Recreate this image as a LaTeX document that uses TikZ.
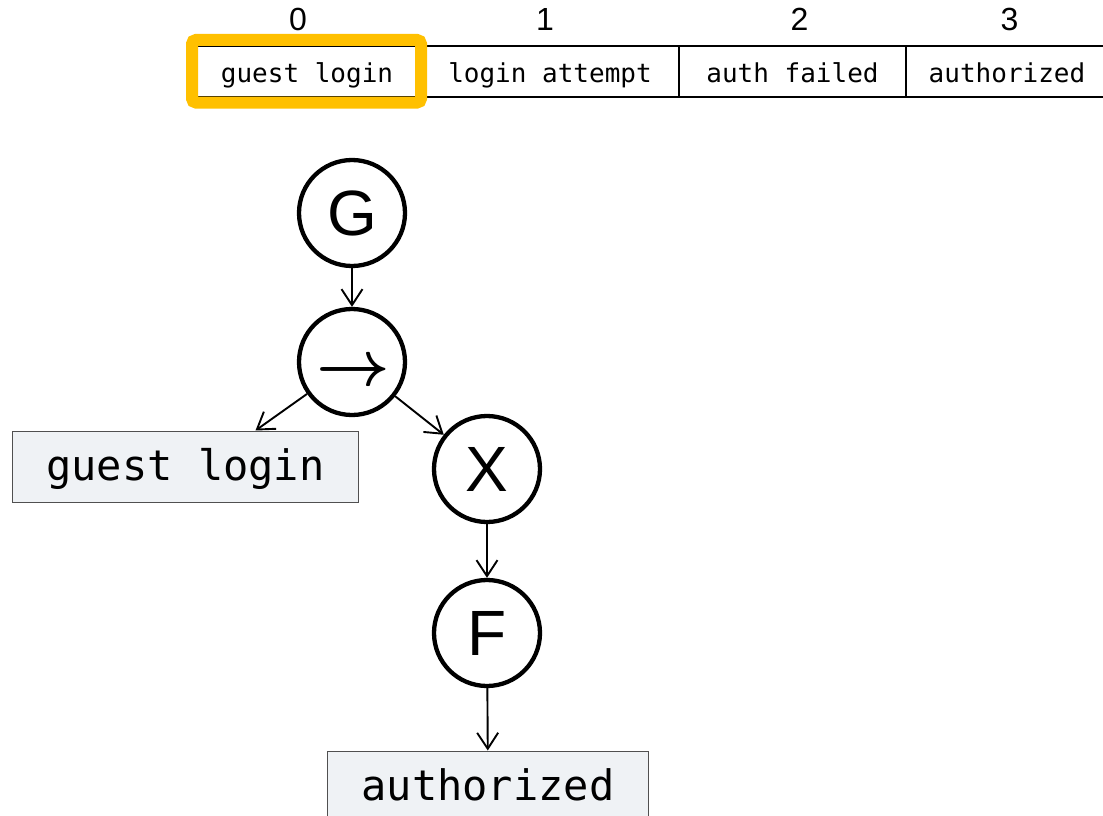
\RequirePackage{fix-cm}
\documentclass[tikz,border=0pt]{standalone}
\usepackage{fontspec}
\setsansfont{Liberation Sans}
\setmonofont{DejaVu Sans Mono}
\usetikzlibrary{arrows.meta}

\definecolor{hiliteyellow}{RGB}{255,192,0}
\definecolor{leaffill}{RGB}{239,242,245}
\definecolor{leafdraw}{RGB}{80,80,80}

\tikzset{
    cell/.style = {draw, line width = 2pt, inner sep = 0pt, minimum height = 51pt,
        text height = 24pt, text depth = 3pt, font = \fontsize{26}{30}\selectfont\ttfamily},
    idx/.style = {inner sep = 0pt, above = 14pt, font = \fontsize{32}{36}\selectfont\sffamily},
    hilite/.style = {draw = hiliteyellow, line width = 12pt, rounded corners = 4pt},
    op/.style = {circle, draw, line width = 4.3pt, minimum size = 106pt, inner sep = 0pt,
        font = \fontsize{64}{70}\selectfont\sffamily},
    leaf/.style = {draw = leafdraw, fill = leaffill, line width = 1pt, inner xsep = 34pt,
        inner ysep = 0pt, minimum height = 71pt, text height = 36pt, text depth = 8pt,
        font = \fontsize{42}{48}\selectfont\ttfamily},
    edge/.style = {line width = 1.9pt, -{Straight Barb[length = 16pt, width = 21pt]}},
}

\begin{document}
\begin{tikzpicture}[x = 1pt, y = -1pt]
        \useasboundingbox (0, 0) rectangle (1103, 816);

        % event trace
        \node [cell, minimum width = 228pt] (c0) at (307, 71.5) {guest login};
        \node [cell, minimum width = 258pt] (c1) at (550, 71.5) {login attempt};
        \node [cell, minimum width = 227pt] (c2) at (792.5, 71.5) {auth failed};
        \node [cell, minimum width = 202pt] (c3) at (1007, 71.5) {authorized};

        \node [idx, xshift = -9pt] at (c0.north) {0};
        \node [idx, xshift = -5pt] at (c1.north) {1};
        \node [idx, xshift = 7pt] at (c2.north) {2};
        \node [idx, xshift = 2.5pt] at (c3.north) {3};

        % current position
        \draw [hilite] ([yshift = 5pt]c0.north west) rectangle ([yshift = -4.5pt, xshift = -1pt]c0.south east);

        % tree
        \node [op] (G) at (352, 213) {G};
        \node [op, label = {[font = \fontsize{64}{70}\selectfont\boldmath, yshift = -11pt, xshift = 1pt]center:$\rightarrow$}] (seq) at (352, 362) {};
        \node [op] (X) at (487, 469) {X};
        \node [op] (F) at (487, 633) {F};

        \node [leaf] (guestleaf) at (185.5, 466.5) {guest login};
        \node [leaf] (authleaf) at (488, 786.5) {authorized};

        \draw [edge] (G) -- (seq);
        \draw [edge] (seq) -- ([xshift = 70pt]guestleaf.north);
        \draw [edge] (seq) -- (X);
        \draw [edge] (X) -- (F);
        \draw [edge] (F) -- (authleaf);
      \end{tikzpicture}
\end{document}
